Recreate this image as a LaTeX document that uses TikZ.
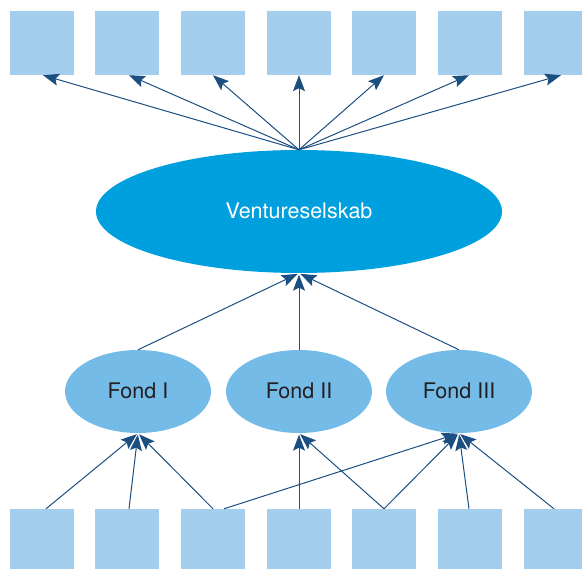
\documentclass[tikz,border=0pt]{standalone}
\usepackage{fontspec}
\setmainfont{TeX Gyre Heros}
\usetikzlibrary{arrows.meta,shapes.geometric}
\definecolor{sqc}{HTML}{A3CEEE}
\definecolor{vsc}{HTML}{009FDD}
\definecolor{fdc}{HTML}{74BBE7}
\definecolor{arc}{HTML}{1B4F82}
\definecolor{txc}{HTML}{231F20}
\tikzset{
  sqbox/.style={rectangle,fill=sqc,minimum width=64pt,minimum height=64pt,inner sep=0pt},
  vsell/.style={ellipse,fill=vsc,minimum width=406pt,minimum height=123pt,inner sep=0pt,text=white,font=\fontsize{21.5pt}{24pt}\selectfont},
  fdell/.style={ellipse,fill=fdc,minimum width=146pt,minimum height=83pt,inner sep=0pt,text=txc,font=\fontsize{21.5pt}{24pt}\selectfont},
  arr/.style={draw=arc,line width=1pt,-{Stealth[length=16pt,width=12pt,inset=3pt]}},
  arrs/.style={arr,shorten >=1.5pt}
}
\begin{document}
\begin{tikzpicture}[x=1pt,y=-1pt]
\useasboundingbox (0,0) rectangle (582,569);
\clip (0,0) rectangle (582,569);
% top squares
\node[sqbox] (t1) at (42,43) {};
\node[sqbox] (t2) at (127,43) {};
\node[sqbox] (t3) at (213,43) {};
\node[sqbox] (t4) at (299,43) {};
\node[sqbox] (t5) at (384,43) {};
\node[sqbox] (t6) at (470,43) {};
\node[sqbox] (t7) at (556,43) {};
% bottom squares
\node[sqbox] (b1) at (42,541) {};
\node[sqbox] (b2) at (127,541) {};
\node[sqbox] (b3) at (213,541) {};
\node[sqbox] (b4) at (299,541) {};
\node[sqbox] (b5) at (384,541) {};
\node[sqbox] (b6) at (470,541) {};
\node[sqbox] (b7) at (556,541) {};
% ellipses
\node[vsell] (vs) at (299,211.5) {\raisebox{1pt}{Ventureselskab}};
\node[fdell] (f1) at (138,391.5) {\raisebox{2pt}{Fond I}};
\node[fdell] (f2) at (299,391.5) {\raisebox{2pt}{Fond II}};
\node[fdell] (f3) at (459,391.5) {\raisebox{2pt}{Fond III}};
% top arrows
\draw[arr] (vs.north) -- ([xshift=1pt]t1.south);
\draw[arr] (vs.north) -- ([xshift=2pt]t2.south);
\draw[arr] (vs.north) -- (t3.south);
\draw[arr] (vs.north) -- (t4.south);
\draw[arr] (vs.north) -- (t5.south);
\draw[arr] (vs.north) -- ([xshift=-1pt]t6.south);
\draw[arr] (vs.north) -- ([xshift=5pt]t7.south);
% fund to venture
\draw[arrs] (f1.north) -- (vs.south);
\draw[arrs] (f2.north) -- (vs.south);
\draw[arrs] (f3.north) -- (vs.south);
% bottom to funds
\draw[arrs] ([xshift=4pt]b1.north) -- (f1.south);
\draw[arrs] ([xshift=2pt]b2.north) -- (f1.south);
\draw[arrs] (b3.north) -- (f1.south);
\draw[arrs] ([xshift=11pt]b3.north) -- (f3.south);
\draw[arrs] (b4.north) -- (f2.south);
\draw[arrs] (b5.north) -- (f2.south);
\draw[arrs] (b5.north) -- (f3.south);
\draw[arrs] ([xshift=-1pt]b6.north) -- (f3.south);
\draw[arrs] ([xshift=-2pt]b7.north) -- (f3.south);
\end{tikzpicture}
\end{document}
